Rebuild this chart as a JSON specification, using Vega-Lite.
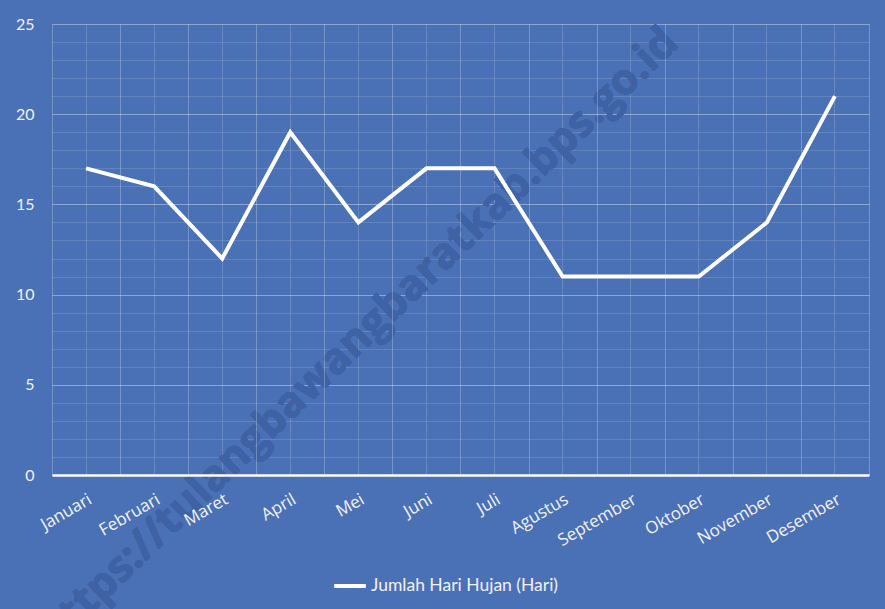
{
  "$schema": "https://vega.github.io/schema/vega-lite/v6.json",
  "width": 817,
  "height": 451,
  "autosize": "none",
  "padding": {"left": 52, "top": 24, "right": 16, "bottom": 134},
  "background": "#4A71B6",
  "config": {"view": {"stroke": null}},
  "data": {"values": [
    {"bulan": "Januari", "hari": 17},
    {"bulan": "Februari", "hari": 16},
    {"bulan": "Maret", "hari": 12},
    {"bulan": "April", "hari": 19},
    {"bulan": "Mei", "hari": 14},
    {"bulan": "Juni", "hari": 17},
    {"bulan": "Juli", "hari": 17},
    {"bulan": "Agustus", "hari": 11},
    {"bulan": "September", "hari": 11},
    {"bulan": "Oktober", "hari": 11},
    {"bulan": "November", "hari": 14},
    {"bulan": "Desember", "hari": 21}
  ]},
  "layer": [
    {
      "mark": {"type": "text", "text": "https://tulangbawangbaratkab.bps.go.id", "angle": -44, "font": "Open Sans", "fontWeight": "bold", "fontSize": 43, "fill": "#3E62A4", "align": "center", "baseline": "middle"},
      "encoding": {
        "x": {"datum": "Mei", "type": "nominal", "axis": {"orient": "top", "labels": false, "ticks": false, "domain": false, "title": null, "grid": true, "gridColor": "#FFFFFF", "gridOpacity": 0.16}},
        "y": {"datum": 7.6, "type": "quantitative", "scale": {"domain": [0, 25], "nice": false, "zero": true}, "axis": {"orient": "right", "labels": false, "ticks": false, "domain": false, "title": null, "grid": true, "gridColor": "#FFFFFF", "gridOpacity": 0.13, "values": [0,1,2,3,4,5,6,7,8,9,10,11,12,13,14,15,16,17,18,19,20,21,22,23,24,25]}}
      }
    },
    {
      "mark": {"type": "line", "strokeWidth": 4, "strokeJoin": "miter"},
      "encoding": {
        "x": {"field": "bulan", "type": "nominal", "sort": null,
          "scale": {"type": "band", "paddingInner": 0, "paddingOuter": 0, "domain": ["Januari","Februari","Maret","April","Mei","Juni","Juli","Agustus","September","Oktober","November","Desember"]},
          "axis": {"title": null, "zindex": 1, "tickBand": "extent", "grid": true, "gridColor": "#FFFFFF", "gridOpacity": 0.25, "ticks": false, "domain": true, "domainColor": "#FFFFFF", "domainWidth": 2.5, "labelAngle": -30, "labelFont": "Open Sans", "labelFontSize": 17, "labelColor": "#F2F2F2", "labelPadding": 16, "labelLimit": 0}},
        "y": {"field": "hari", "type": "quantitative", "scale": {"domain": [0, 25], "nice": false},
          "axis": {"title": null, "values": [0,5,10,15,20,25], "grid": true, "gridColor": "#FFFFFF", "gridOpacity": 0.28, "ticks": false, "domain": false, "labelFont": "Lato", "labelFontSize": 16, "labelColor": "#F2F2F2", "labelPadding": 18}},
        "color": {"datum": "Jumlah Hari Hujan (Hari)", "type": "nominal", "scale": {"range": ["#FFFFFF"]},
          "legend": {"title": null, "orient": "none", "legendX": 280, "legendY": 544, "symbolType": "stroke", "symbolStrokeWidth": 4, "symbolSize": 1000, "labelFont": "Lato", "labelFontSize": 17.5, "labelColor": "#F2F2F2", "labelOffset": 3, "labelLimit": 0}}
      }
    }
  ],
  "resolve": {"axis": {"x": "independent", "y": "independent"}}
}
